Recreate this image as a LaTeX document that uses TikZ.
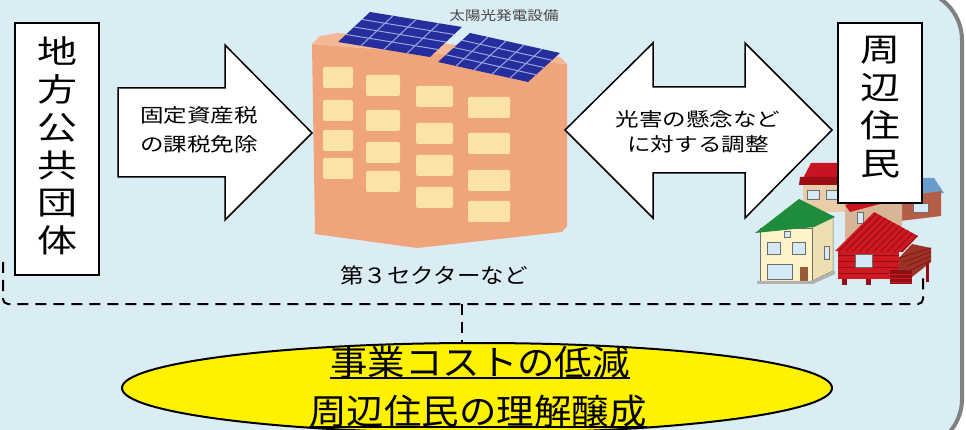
\documentclass[tikz,border=0pt]{standalone}
\usepackage{fontspec}
\setmainfont{Noto Sans CJK JP}
\usepackage{graphicx}
\usetikzlibrary{calc,shapes.geometric}

\definecolor{bgblue}{HTML}{DBEDF4}
\definecolor{framegray}{HTML}{808080}
\definecolor{bldg}{HTML}{F0A47C}
\definecolor{bldgtop}{HTML}{F5B894}
\definecolor{win}{HTML}{FBE3A6}
\definecolor{panel}{HTML}{262D9C}
\definecolor{panelline}{HTML}{9AA6E0}
\definecolor{roofred}{HTML}{C81420}
\definecolor{roofdark}{HTML}{9A0E16}
\definecolor{beige}{HTML}{EACCA8}
\definecolor{winblue}{HTML}{D4E8F5}
\definecolor{winedge}{HTML}{6E6E6E}
\definecolor{roofblue}{HTML}{6A9CCC}
\definecolor{brick}{HTML}{B45E48}
\definecolor{tanwall}{HTML}{D8B596}
\definecolor{roofgreen}{HTML}{1E8C3A}
\definecolor{cream}{HTML}{FCF4C8}
\definecolor{creamdark}{HTML}{ECE0B0}
\definecolor{cabinred}{HTML}{D01820}
\definecolor{cabindark}{HTML}{8E1016}
\definecolor{deck}{HTML}{9A3426}
\definecolor{doorbrown}{HTML}{9A5A3A}
\definecolor{captiongray}{HTML}{444444}

% horizontally widened text
\newcommand{\wx}[1]{\scalebox{1.24}[1]{#1}}
\newcommand{\vx}[1]{\scalebox{1.25}[1]{#1}}
\newcommand{\gx}[1]{\scalebox{1.07}[1]{#1}}

\tikzset{
  bigarrow/.style={fill=white, draw=black, line width=1.5pt, line join=miter},
  labelbox/.style={draw=black, fill=white, line width=1.5pt, inner sep=0pt},
  vertname/.style={align=center, inner sep=0pt, font=\fontsize{32}{37.8}\selectfont},
  arrowtext/.style={align=center, inner sep=0pt},
  dashline/.style={line width=2pt, dash pattern=on 11pt off 7pt},
  goaltext/.style={inner sep=0pt, font=\fontsize{35}{40}\selectfont},
  winframe/.style={fill=winblue, draw=winedge, line width=0.6pt},
}

\begin{document}
\begin{tikzpicture}[x=1pt,y=-1pt]
\useasboundingbox (0,0) rectangle (966,430);
\fill[white] (0,0) rectangle (966,430);
% light blue panel with grey rounded frame
\draw[fill=bgblue, draw=framegray, line width=4pt, rounded corners=50pt]
  (-30,-10) rectangle (962,449);

% dashed grouping outline
\draw[dashline, rounded corners=5pt] (3,262) -- (3,304) -- (923,304) -- (923,276);
\coordinate (dj) at (462,304);

% ---------- building ----------
\fill[bldg] (312,44) -- (567,64) -- (567,226) -- (562,232) -- (417,248) -- (315,234) -- cycle;
\fill[bldgtop] (312,44) -- (320,36) -- (338,33) -- (470,46) -- (560,57) -- (567,64) -- cycle;
\foreach \xa/\xb/\ya/\yb/\yc/\yd in {323/353/67/100/130/158, 366/400/75/110/142/171,
                                     416/453/86/123/155/187, 468/510/97/133/170/201}{
  \foreach \yy in {\ya,\yb,\yc,\yd}
    \fill[win, rounded corners=2pt] (\xa,\yy) rectangle (\xb,\yy+21);
}
% solar panel arrays
\fill[panel] (370,12) -- ++(92,15) -- ++(-32,30) -- ++(-92,-15) -- cycle;
\foreach \i in {1,2,3} {
  \draw[panelline, line width=1pt] ($(370,12)+\i/4*(92,15)$) -- ++(-32,30);
  \draw[panelline, line width=1pt] ($(370,12)+\i/4*(-32,30)$) -- ++(92,15);
}
\fill[panel] (470,33) -- ++(90,20) -- ++(-32,29) -- ++(-90,-20) -- cycle;
\foreach \i in {1,2,3,4}
  \draw[panelline, line width=1pt] ($(470,33)+\i/5*(90,20)$) -- ++(-32,29);
\foreach \i in {1,2,3}
  \draw[panelline, line width=1pt] ($(470,33)+\i/4*(-32,29)$) -- ++(90,20);

\node[inner sep=0pt, text=captiongray, font=\fontsize{13}{15}\selectfont] (pv) at (504,16) {\scalebox{1.2}[1]{太陽光発電設備}};
\node[inner sep=0pt, font=\fontsize{21}{24}\selectfont] (sector) at (434,275) {\scalebox{1.12}[1]{第３セクターなど}};

% ---------- arrows ----------
\draw[bigarrow] (118,88) -- (225,88) -- (225,45) -- (312,133) -- (225,220) -- (225,177) -- (118,177) -- cycle;
\node[arrowtext, font=\fontsize{19}{29}\selectfont] (tax) at (199,130) {\wx{固定資産税}\\\wx{の課税免除}};

\draw[bigarrow] (565,130) -- (653,43) -- (653,87) -- (745,87) -- (745,43) -- (832,130)
  -- (745,218) -- (745,173) -- (653,173) -- (653,218) -- cycle;
\node[arrowtext, font=\fontsize{19}{24.5}\selectfont] (adjust) at (698,132) {\wx{光害の懸念など}\\\wx{に対する調整}};

% ---------- houses (back row) ----------
\fill[roofred] (800,184) -- (811,163) -- (852,163) -- (852,184) -- cycle;
\fill[roofdark] (800,177) -- (852,177) -- (852,185) -- (799,185) -- cycle;
\fill[beige] (803,185) rectangle (850,212);
\draw[winframe] (807,190) rectangle (819,199);
\draw[winframe] (826,190) rectangle (837,199);
\fill[roofblue] (895,178) -- (934,178) -- (944,193) -- (900,198) -- cycle;
\fill[brick] (900,197) -- (941,191) -- (941,216) -- (900,221) -- cycle;
\draw[winframe] (913,203) rectangle (928,212);
\fill[tanwall] (845,207) -- (872,199) -- (902,199) -- (902,236) -- (845,240) -- cycle;
\fill[roofred] (845,205) -- (872,197) -- (880,204) -- (850,212) -- cycle;
\draw[winframe] (857,212) rectangle (863,223);

% right name box
\node[labelbox, minimum width=84pt, minimum height=180pt] (rbox) at (880,113) {};
\node[vertname] (rname) at (880,107) {\vx{周}\\\vx{辺}\\\vx{住}\\\vx{民}};

% ---------- houses (front row) ----------
% green-roof house
\fill[creamdark, draw=winedge, line width=0.5pt] (812,226) -- (833,216) -- (833,271) -- (812,281) -- cycle;
\fill[cream, draw=winedge, line width=0.5pt] (760,228) rectangle (812,281);
\fill[roofgreen] (755,233) -- (799,199) -- (835,217) -- (814,227) -- cycle;
\draw[winframe] (784,231) rectangle (790,237);
\draw[winframe] (767,242) rectangle (780,254);
\draw[winframe] (792,242) rectangle (805,254);
\draw[winframe] (767,264) rectangle (792,279);
\fill[doorbrown] (800,267) rectangle (808,281);
\draw[winframe] (824,246) rectangle (829,259);
\fill[gray!60] (757,281) -- (812,281) -- (835,271) -- (835,274) -- (813,284) -- (757,284) -- cycle;
% red log cabin
\fill[deck] (899,258) -- (912,244) -- (931,248) -- (931,262) -- (912,277) -- (899,277) -- cycle;
\foreach \k in {0,1,2,3}
  \draw[cabindark, line width=0.8pt] (899+\k*4,258+\k*4) -- (931,248+\k*4);
\fill[cabindark] (926,262) rectangle (929,282);
\fill[cabinred] (838,251) rectangle (899,279);
\foreach \yy in {256,262,268,274}
  \draw[cabindark, line width=1pt] (838,\yy) -- (899,\yy);
\draw[winframe] (855,254) rectangle (872,267);
\begin{scope}
  \clip (835,251) -- (874,212) -- (918,236) -- (903,252) -- cycle;
  \fill[cabinred] (835,251) -- (874,212) -- (918,236) -- (903,252) -- cycle;
  \foreach \k in {0,...,9}
    \draw[cabindark, line width=0.8pt] (838+\k*7,252) -- ++(44,-44);
\end{scope}
\fill[cabindark] (890,270) rectangle (912,284);
\foreach \yy in {274,278,282}
  \draw[cabinred, line width=0.8pt] (890,\yy) -- (912,\yy);
\fill[cabindark] (842,279) rectangle (847,285);
\fill[cabindark] (866,279) rectangle (871,285);

% left name box
\node[labelbox, minimum width=84pt, minimum height=252pt] (lbox) at (57,149) {};
\node[vertname] (lname) at (57,146) {\vx{地}\\\vx{方}\\\vx{公}\\\vx{共}\\\vx{団}\\\vx{体}};

% ---------- goal ellipse ----------
\node[ellipse, draw=black, fill=yellow, line width=2pt, minimum width=710pt,
      minimum height=90pt, inner sep=0pt] (goal) at (477,388) {};
\draw[dashline] (dj) -- (dj |- goal.north);
\node[goaltext] (g1) at (480,362) {\gx{事業コストの低減}};
\node[goaltext] (g2) at (478,411) {\gx{周辺住民の理解醸成}};
\draw[line width=2pt] (g1.south west) -- (g1.south east);
\draw[line width=2pt] (g2.south west) -- (g2.south east);
\end{tikzpicture}
\end{document}
